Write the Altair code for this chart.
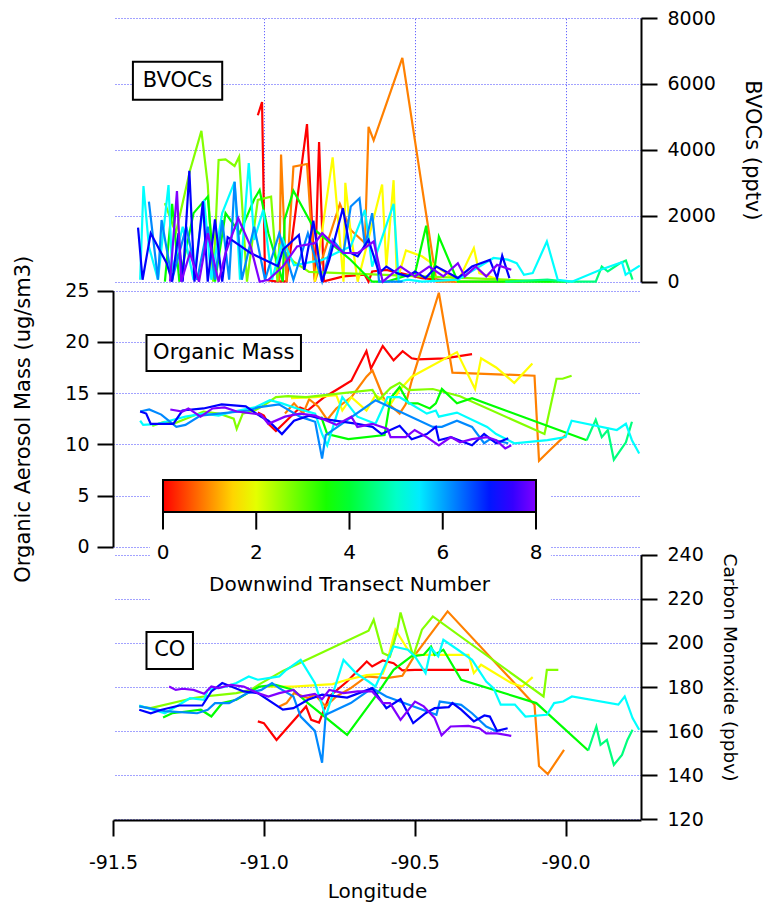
import altair as alt
import pandas as pd

FONT = "DejaVu Sans"

# Downwind transect number carried by each flight track (drives the colour)
TRANSECTS = [0.0, 0.9, 1.8, 2.7, 3.66, 4.5, 5.37, 6.2, 7.16, 8.0]

# ---------------- BVOCs (pptv): (longitude, value) per track ----------------
bvoc_0 = [(-91.020, 5050), (-91.006, 5450), (-90.996, 60), (-90.961, 10), (-90.925, 10),
          (-90.857, 4780), (-90.831, 60), (-90.817, 4240), (-90.801, 10), (-90.736, 160),
          (-90.666, 210), (-90.653, 0), (-90.641, 310), (-90.594, 360), (-90.547, 260),
          (-90.476, 110), (-90.357, 0)]
bvoc_1 = [(-90.949, 0), (-90.943, 3860), (-90.925, 0), (-90.902, 3490), (-90.857, 3570),
          (-90.831, 0), (-90.748, 2360), (-90.712, 1570), (-90.665, 1170), (-90.653, 4700),
          (-90.636, 4290), (-90.541, 6790), (-90.428, 0), (-90.300, 0), (-90.150, 0)]
bvoc_2 = [(-90.831, 0), (-90.772, 3770), (-90.736, 0), (-90.730, 3000), (-90.712, 1470),
          (-90.689, 0), (-90.608, 2950), (-90.594, 460), (-90.570, 3080), (-90.559, 0),
          (-90.529, 950), (-90.476, 770), (-90.357, 0), (-90.304, 1020), (-90.286, 260),
          (-90.200, 0)]
bvoc_3 = [(-91.328, 2380), (-91.292, 1470), (-91.245, 3365), (-91.207, 4575), (-91.186, 2950),
          (-91.168, 0), (-91.150, 3690), (-91.127, 3710), (-91.097, 3510), (-91.082, 3790),
          (-91.056, 0), (-91.020, 2480), (-90.976, 2580), (-90.955, 0), (-90.949, 1100),
          (-90.900, 600), (-90.850, 300), (-90.200, 60), (-90.050, 0)]
bvoc_4 = [(-91.328, 0), (-91.304, 2360), (-91.280, 0), (-91.233, 2080), (-91.186, 2580),
          (-91.162, 0), (-91.127, 2080), (-91.080, 1470), (-91.032, 2500), (-91.014, 2780),
          (-90.985, 1470), (-90.937, 0), (-90.931, 1900), (-90.902, 2760), (-90.831, 1570),
          (-90.712, 660), (-90.641, 0), (-90.594, 0), (-90.499, 260), (-90.462, 1700),
          (-90.440, 0), (-90.420, 1370), (-90.357, 0), (-90.000, 0)]
bvoc_5 = [(-90.200, 0), (-90.060, 60), (-90.000, 0), (-89.900, 0), (-89.880, 460),
          (-89.860, 310), (-89.820, 560), (-89.800, 640), (-89.778, 60)]
bvoc_6 = [(-91.410, 60), (-91.399, 2900), (-91.381, 1070), (-91.351, 60), (-91.316, 2930),
          (-91.304, 310), (-91.269, 1670), (-91.233, 60), (-91.198, 2480), (-91.174, 60),
          (-91.138, 2080), (-91.097, 3030), (-91.079, 60), (-91.050, 3600), (-91.032, 1270),
          (-91.002, 2180), (-90.973, 60), (-90.937, 1270), (-90.900, 500), (-90.807, 660),
          (-90.760, 870), (-90.712, 1070), (-90.665, 2180), (-90.641, 460), (-90.570, 2360),
          (-90.553, 0), (-90.523, 60), (-90.476, 0), (-90.357, 60), (-90.239, 720),
          (-90.192, 670), (-90.162, 560), (-90.138, 210), (-90.109, 260), (-90.062, 1220),
          (-90.026, 60), (-89.979, 0), (-89.884, 360), (-89.813, 590), (-89.801, 210),
          (-89.754, 490)]
bvoc_7 = [(-91.381, 2430), (-91.351, 60), (-91.339, 1870), (-91.304, 60), (-91.257, 1670),
          (-91.221, 60), (-91.186, 1670), (-91.162, 60), (-91.138, 1870), (-91.115, 60),
          (-91.097, 3030), (-91.073, 60), (-91.032, 1670), (-90.996, 60), (-90.949, 1470),
          (-90.902, 60), (-90.854, 1470), (-90.807, 10), (-90.772, 1270), (-90.736, 870),
          (-90.712, 2280), (-90.683, 2530), (-90.665, 1070), (-90.641, 2080), (-90.618, 0),
          (-90.540, 0)]
bvoc_8 = [(-91.417, 1640), (-91.402, 60), (-91.375, 1470), (-91.322, 560), (-91.304, 0),
          (-91.283, 1470), (-91.269, 0), (-91.247, 3365), (-91.230, 0), (-91.202, 2440),
          (-91.186, 0), (-91.162, 1890), (-91.138, 0), (-91.120, 1350), (-91.044, 870),
          (-90.953, 470), (-90.937, 970), (-90.884, 1420), (-90.866, 360), (-90.836, 1850),
          (-90.807, 0), (-90.783, 670), (-90.738, 2230), (-90.712, 870), (-90.689, 770),
          (-90.653, 1270), (-90.618, 260), (-90.594, 460), (-90.559, 260), (-90.523, 160),
          (-90.499, 310), (-90.464, 110), (-90.428, 460), (-90.357, 110), (-90.310, 460),
          (-90.251, 660), (-90.227, 110), (-90.210, 790), (-90.186, 110)]
bvoc_9 = [(-91.311, 0), (-91.288, 2750), (-91.274, 0), (-91.245, 870), (-91.215, 0),
          (-91.186, 1470), (-91.150, 0), (-91.127, 870), (-91.085, 1925), (-91.044, 1070),
          (-91.014, 0), (-90.985, 60), (-90.937, 460), (-90.890, 1070), (-90.831, 1170),
          (-90.807, 1470), (-90.772, 1170), (-90.736, 870), (-90.689, 870), (-90.636, 1220),
          (-90.606, 0), (-90.547, 460), (-90.499, 160), (-90.452, 460), (-90.405, 160),
          (-90.357, 560), (-90.334, 160), (-90.298, 460), (-90.263, 160), (-90.227, 510),
          (-90.180, 360)]

# ---------------- Organic aerosol mass (ug/sm3) ----------------
om_0 = [(-91.020, 13.1), (-91.000, 12.8), (-90.985, 12.0), (-90.960, 11.3), (-90.925, 12.3),
        (-90.880, 13.6), (-90.855, 13.3), (-90.830, 13.9), (-90.800, 14.6), (-90.760, 15.3),
        (-90.710, 16.2), (-90.660, 19.1), (-90.645, 17.4), (-90.606, 19.6), (-90.570, 18.2),
        (-90.540, 19.1), (-90.510, 18.4), (-90.490, 18.3), (-90.400, 18.4), (-90.310, 18.8)]
om_1 = [(-90.930, 13.0), (-90.900, 14.0), (-90.870, 13.0), (-90.850, 14.4), (-90.820, 13.7),
        (-90.790, 12.4), (-90.760, 13.5), (-90.710, 14.6), (-90.660, 16.6), (-90.640, 17.2),
        (-90.600, 14.3), (-90.550, 13.0), (-90.530, 13.9), (-90.510, 16.2), (-90.420, 24.8),
        (-90.375, 17.0), (-90.103, 16.7), (-90.088, 8.4), (-90.050, 9.5), (-90.000, 10.9)]
om_2 = [(-90.910, 14.5), (-90.830, 14.6), (-90.760, 14.8), (-90.740, 13.3), (-90.710, 14.6),
        (-90.660, 13.3), (-90.630, 14.8), (-90.580, 13.9), (-90.550, 15.3), (-90.510, 16.6),
        (-90.360, 19.0), (-90.300, 15.4), (-90.280, 18.4), (-90.230, 17.5), (-90.170, 16.0),
        (-90.110, 17.9)]
om_3 = [(-91.370, 11.8), (-91.330, 12.2), (-91.300, 12.0), (-91.250, 12.6), (-91.200, 13.2),
        (-91.150, 13.0), (-91.100, 12.5), (-91.090, 11.5), (-91.070, 13.0), (-91.030, 13.3),
        (-91.000, 13.8), (-90.960, 14.6), (-90.920, 14.7), (-90.860, 14.6), (-90.640, 15.3),
        (-90.620, 14.3), (-90.580, 15.5), (-90.550, 16.0), (-90.520, 15.3), (-90.440, 15.4),
        (-90.350, 14.7), (-90.070, 11.0), (-90.030, 16.4), (-90.010, 16.4), (-89.980, 16.7)]
om_4 = [(-90.810, 12.7), (-90.790, 11.0), (-90.720, 10.5), (-90.600, 10.9), (-90.580, 14.5),
        (-90.550, 15.6), (-90.520, 14.0), (-90.490, 14.0), (-90.450, 13.5), (-90.430, 14.0),
        (-90.410, 15.4), (-90.360, 14.0), (-90.310, 14.5), (-89.930, 10.4)]
om_5 = [(-89.930, 10.4), (-89.900, 12.4), (-89.880, 10.7), (-89.860, 11.4), (-89.840, 8.5),
        (-89.800, 10.2), (-89.780, 12.2)]
om_6 = [(-91.410, 12.3), (-91.400, 11.9), (-91.350, 12.0), (-91.300, 12.4), (-91.260, 12.7),
        (-91.200, 13.0), (-91.150, 12.8), (-91.100, 13.2), (-91.030, 13.6), (-90.980, 14.3),
        (-90.940, 14.0), (-90.890, 13.5), (-90.830, 13.0), (-90.807, 11.0), (-90.790, 9.9),
        (-90.740, 14.6), (-90.690, 12.7), (-90.630, 12.0), (-90.590, 14.6), (-90.550, 14.6),
        (-90.460, 13.0), (-90.430, 13.3), (-90.420, 12.7), (-90.360, 13.1), (-90.260, 11.7),
        (-90.230, 11.0), (-90.170, 10.1), (-90.060, 10.4), (-90.000, 10.7), (-89.980, 12.3),
        (-89.830, 11.4), (-89.800, 12.0), (-89.780, 10.4), (-89.756, 9.1)]
om_7 = [(-91.410, 13.2), (-91.380, 13.4), (-91.340, 12.9), (-91.290, 11.7), (-91.260, 11.9),
        (-91.210, 12.8), (-91.150, 13.0), (-91.050, 13.3), (-91.020, 13.6), (-90.950, 13.9),
        (-90.880, 12.7), (-90.830, 12.2), (-90.807, 8.6), (-90.795, 10.9), (-90.630, 14.3),
        (-90.440, 11.7), (-90.410, 11.7), (-90.360, 12.3), (-90.310, 11.7), (-90.270, 10.1),
        (-90.250, 10.5), (-90.190, 10.1)]
om_8 = [(-91.410, 13.2), (-91.390, 13.0), (-91.375, 12.0), (-91.300, 12.0), (-91.270, 13.3),
        (-91.200, 13.5), (-91.140, 13.9), (-91.060, 13.7), (-91.010, 12.7), (-90.985, 12.3),
        (-90.940, 11.0), (-90.900, 12.3), (-90.850, 12.8), (-90.810, 12.5), (-90.690, 12.0),
        (-90.640, 11.7), (-90.610, 11.0), (-90.550, 11.8), (-90.510, 10.5), (-90.460, 11.0),
        (-90.430, 11.7), (-90.420, 10.4), (-90.380, 10.7), (-90.310, 9.9), (-90.270, 11.0),
        (-90.230, 10.1), (-90.190, 10.6)]
om_9 = [(-91.310, 13.4), (-91.270, 13.2), (-91.250, 13.5), (-91.210, 12.7), (-91.170, 13.5),
        (-91.130, 13.6), (-91.090, 13.2), (-91.010, 12.9), (-90.985, 12.0), (-90.930, 12.7),
        (-90.880, 13.0), (-90.830, 12.8), (-90.760, 11.9), (-90.710, 12.7), (-90.690, 11.7),
        (-90.640, 12.0), (-90.590, 11.5), (-90.580, 10.7), (-90.530, 10.7), (-90.500, 11.4),
        (-90.460, 10.7), (-90.420, 9.9), (-90.380, 10.7), (-90.350, 10.2), (-90.310, 10.5),
        (-90.260, 10.7), (-90.230, 10.4), (-90.200, 9.6), (-90.180, 9.9)]

# ---------------- Carbon monoxide (ppbv) ----------------
co_0 = [(-91.020, 164.4), (-91.000, 163.6), (-90.958, 156.0), (-90.860, 171.2), (-90.843, 165.1),
        (-90.817, 163.9), (-90.783, 175.7), (-90.724, 182.5), (-90.659, 191.6), (-90.641, 189.3),
        (-90.606, 192.0), (-90.570, 190.8), (-90.541, 187.5), (-90.499, 187.8), (-90.400, 187.8),
        (-90.320, 187.8)]
co_1 = [(-90.949, 171.2), (-90.925, 172.7), (-90.900, 177.2), (-90.854, 175.0), (-90.831, 176.5),
        (-90.795, 171.2), (-90.760, 175.7), (-90.712, 179.5), (-90.659, 184.8), (-90.594, 184.0),
        (-90.541, 185.1), (-90.499, 194.6), (-90.391, 214.3), (-90.103, 172.0), (-90.088, 144.2),
        (-90.059, 140.5), (-90.005, 151.5)]
co_2 = [(-90.996, 180.2), (-90.902, 180.2), (-90.772, 181.3), (-90.724, 183.3), (-90.659, 185.4),
        (-90.606, 186.0), (-90.594, 190.1), (-90.564, 206.0), (-90.523, 197.0), (-90.499, 194.6),
        (-90.417, 194.6), (-90.322, 194.6), (-90.304, 186.3), (-90.280, 190.1), (-90.180, 181.8),
        (-90.144, 180.2), (-90.109, 184.5)]
co_3 = [(-91.413, 171.2), (-91.375, 170.4), (-91.233, 175.0), (-91.198, 175.7), (-91.138, 176.5),
        (-91.091, 177.2), (-91.044, 178.7), (-91.014, 181.3), (-90.937, 187.3), (-90.653, 205.5),
        (-90.636, 210.5), (-90.606, 195.4), (-90.582, 193.9), (-90.559, 205.0), (-90.547, 213.8),
        (-90.505, 193.9), (-90.476, 206.0), (-90.440, 212.0), (-90.073, 175.7), (-90.062, 187.8),
        (-90.024, 187.8)]
co_4 = [(-91.334, 166.2), (-91.304, 168.1), (-91.257, 168.9), (-91.209, 169.7), (-91.174, 166.6),
        (-91.138, 172.7), (-91.091, 174.2), (-91.044, 178.0), (-91.014, 180.2), (-90.961, 181.0),
        (-90.902, 178.7), (-90.854, 172.7), (-90.724, 158.3), (-90.630, 175.7), (-90.570, 187.8),
        (-90.511, 193.9), (-90.470, 194.6), (-90.446, 198.4), (-90.434, 194.6), (-90.405, 196.9),
        (-90.346, 183.3), (-90.097, 172.7), (-89.925, 151.2)]
co_5 = [(-89.925, 151.2), (-89.898, 162.1), (-89.884, 153.8), (-89.863, 156.0), (-89.840, 144.7),
        (-89.813, 149.2), (-89.795, 156.0), (-89.778, 160.6)]
co_6 = [(-91.413, 171.6), (-91.328, 168.1), (-91.245, 174.9), (-91.198, 174.2), (-91.186, 178.7),
        (-91.127, 180.2), (-91.091, 181.8), (-91.050, 184.8), (-91.020, 183.3), (-90.985, 184.0),
        (-90.949, 184.8), (-90.925, 187.8), (-90.878, 192.3), (-90.831, 181.8), (-90.795, 166.6),
        (-90.736, 192.3), (-90.695, 186.3), (-90.653, 182.5), (-90.630, 180.2), (-90.570, 198.4),
        (-90.523, 196.9), (-90.499, 193.9), (-90.464, 186.3), (-90.446, 197.6), (-90.422, 193.9),
        (-90.405, 201.4), (-90.357, 196.9), (-90.310, 192.3), (-90.263, 182.5), (-90.239, 179.5),
        (-90.215, 172.0), (-90.168, 172.0), (-90.133, 166.6), (-90.062, 167.4), (-90.038, 172.7),
        (-90.008, 173.4), (-89.979, 175.7), (-89.825, 172.0), (-89.804, 175.7), (-89.778, 165.9),
        (-89.756, 160.6)]
co_7 = [(-91.413, 171.2), (-91.328, 169.1), (-91.221, 168.1), (-91.186, 169.7), (-91.162, 172.7),
        (-91.115, 172.7), (-91.056, 177.2), (-91.008, 178.7), (-90.973, 181.8), (-90.949, 179.5),
        (-90.902, 175.7), (-90.878, 166.6), (-90.831, 160.1), (-90.807, 145.7), (-90.795, 167.4),
        (-90.712, 172.7), (-90.641, 179.5), (-90.594, 175.7), (-90.428, 167.4), (-90.417, 173.4),
        (-90.381, 172.7), (-90.346, 171.9), (-90.310, 168.1), (-90.263, 162.1), (-90.227, 159.8)]
co_8 = [(-91.413, 169.7), (-91.375, 168.1), (-91.339, 169.7), (-91.280, 171.6), (-91.204, 171.6),
        (-91.174, 178.0), (-91.138, 181.8), (-91.067, 178.0), (-91.020, 177.2), (-90.937, 169.7),
        (-90.902, 170.4), (-90.854, 174.2), (-90.807, 176.5), (-90.724, 175.2), (-90.641, 179.5),
        (-90.594, 170.4), (-90.547, 174.5), (-90.505, 163.6), (-90.464, 168.1), (-90.434, 170.4),
        (-90.387, 170.9), (-90.375, 172.7), (-90.346, 169.7), (-90.304, 164.4), (-90.269, 167.1),
        (-90.251, 166.6), (-90.227, 160.1), (-90.192, 161.3)]
co_9 = [(-91.314, 180.2), (-91.292, 178.7), (-91.269, 179.2), (-91.233, 178.7), (-91.198, 176.9),
        (-91.174, 180.2), (-91.150, 179.5), (-91.109, 181.0), (-91.067, 180.2), (-91.020, 177.2),
        (-90.985, 175.7), (-90.949, 177.2), (-90.902, 178.7), (-90.878, 175.7), (-90.831, 176.9),
        (-90.807, 174.5), (-90.783, 178.7), (-90.736, 177.2), (-90.689, 178.0), (-90.641, 178.0),
        (-90.606, 172.7), (-90.582, 172.7), (-90.547, 165.1), (-90.499, 173.4), (-90.470, 171.2),
        (-90.434, 165.9), (-90.411, 158.1), (-90.381, 162.1), (-90.322, 162.4), (-90.286, 161.3),
        (-90.263, 159.0), (-90.227, 159.0), (-90.180, 157.8)]

# axis ticks
LON_TICKS = [-91.5, -91.0, -90.5, -90.0]
BVOC_TICKS = [0, 2000, 4000, 6000, 8000]
OM_TICKS = [0, 5, 10, 15, 20, 25]
CO_TICKS = [120, 140, 160, 180, 200, 220, 240]
CBAR_TICKS = [0, 2, 4, 6, 8]
CBAR_TITLE = "Downwind Transect Number"


def long_table(series):
    rows = []
    for k, pts in enumerate(series):
        for i, (lon, val) in enumerate(pts):
            rows.append({"lon": lon, "value": val, "transect": TRANSECTS[k], "track": k, "seq": i})
    return pd.DataFrame(rows)


bvoc_df = long_table([bvoc_0, bvoc_1, bvoc_2, bvoc_3, bvoc_4, bvoc_5, bvoc_6, bvoc_7, bvoc_8, bvoc_9])
om_df = long_table([om_0, om_1, om_2, om_3, om_4, om_5, om_6, om_7, om_8, om_9])
co_df = long_table([co_0, co_1, co_2, co_3, co_4, co_5, co_6, co_7, co_8, co_9])
one_row = pd.DataFrame({"k": [0]})
tick_df = pd.DataFrame({"tick": CBAR_TICKS})

W, H = 528, 802
GRID = "#4444ff"


def lon_scale():
    return alt.Scale(domain=[-91.5, -89.75], nice=False, zero=False)


# three stacked value scales sharing one plotting rectangle
bvoc_scale = alt.Scale(domain=[0, 8000], range=[263.7, 0], nice=False, zero=False)
om_scale = alt.Scale(domain=[0, 25], range=[528.7, 272.7], nice=False, zero=False)
co_scale = alt.Scale(domain=[120, 240], range=[801.3, 536.7], nice=False, zero=False)
# colour-bar placement scales (0 = bottom edge of the bar, 1 = top edge)
cb_x = alt.Scale(domain=[0, 8], range=[50, 423], nice=False, zero=False)
cb_y = alt.Scale(domain=[0, 1], range=[494, 462], nice=False, zero=False)

color_scale = alt.Scale(
    domain=[0, 0.9, 1.8, 3.66, 5.37, 7.16, 8],
    range=["#ff0000", "#ff8000", "#ffff00", "#00ff00", "#00ffff", "#0000ff", "#8000ff"],
    interpolate="rgb",
)

# the legend supplies only the gradient bar; ticks, centred labels and title are marks
legend = alt.Legend(
    orient="none", legendX=50, legendY=462, direction="horizontal",
    gradientLength=373, gradientThickness=32,
    gradientStrokeColor="black", gradientStrokeWidth=2,
    values=CBAR_TICKS, labelExpr="''", title=None, padding=0,
)

axis_common = dict(
    domainColor="black", domainWidth=2, tickColor="black", tickWidth=2, tickSize=16,
    labelFont=FONT, labelFontSize=19, labelColor="black", labelOverlap=False, labelFlush=False,
    titleFont=FONT, titleFontSize=20, titleFontWeight="normal", titleColor="black",
    grid=True, gridColor=GRID, gridDash=[1, 2], gridWidth=1,
)

x_axis = alt.Axis(
    orient="bottom", values=LON_TICKS, title="Longitude",
    labelExpr="replace(format(datum.value, '.1f'), '\u2212', '-')",
    labelPadding=17, titlePadding=9,
    gridOpacity=alt.condition("datum.value == -91.5", alt.value(0), alt.value(1)),
    **axis_common,
)
bvoc_axis = alt.Axis(orient="right", values=BVOC_TICKS, format="d", title="BVOCs (pptv)",
                     labelPadding=10, titlePadding=26, **{**axis_common, "titleFontSize": 21})
om_axis = alt.Axis(orient="left", values=OM_TICKS, format="d", title="Organic Aerosol Mass (ug/sm3)",
                   labelPadding=8, titlePadding=31, **{**axis_common, "titleFontSize": 21})
co_axis = alt.Axis(orient="right", values=CO_TICKS, format="d", title="Carbon Monoxide (ppbv)",
                   labelPadding=10, titlePadding=16, titleY=535, titleAlign="left",
                   **{**axis_common, "titleFontSize": 18.5})


def tracks(df, y_scale, y_axis, x_axis_def=None):
    return alt.Chart(df).mark_line(strokeWidth=2.2).encode(
        x=alt.X("lon:Q", scale=lon_scale(), axis=x_axis_def),
        y=alt.Y("value:Q", scale=y_scale, axis=y_axis),
        color=alt.Color("transect:Q", scale=color_scale, legend=legend),
        detail="track:N",
        order="seq:Q",
    )


def label_box(lon0, lon1, v0, v1, y_scale):
    return alt.Chart(one_row).mark_rect(fill="white", stroke="black", strokeWidth=2).encode(
        x=alt.XDatum(lon0, scale=lon_scale(), axis=None), x2=alt.X2Datum(lon1),
        y=alt.YDatum(v0, scale=y_scale, axis=None), y2=alt.Y2Datum(v1),
    )


def label_text(text, lon, v, y_scale):
    return alt.Chart(one_row).mark_text(
        text=text, font=FONT, fontSize=21, color="black", align="center", baseline="middle"
    ).encode(
        x=alt.XDatum(lon, scale=lon_scale(), axis=None),
        y=alt.YDatum(v, scale=y_scale, axis=None),
    )


bvoc_lines = tracks(bvoc_df, bvoc_scale, bvoc_axis)
om_lines = tracks(om_df, om_scale, om_axis)
co_lines = tracks(co_df, co_scale, co_axis, x_axis)

bvoc_box = label_box(-91.434, -91.138, 6673, 5519, bvoc_scale)
bvoc_lbl = label_text("BVOCs", -91.286, 6096, bvoc_scale)
om_box = label_box(-91.389, -90.877, 20.67, 17.16, om_scale)
om_lbl = label_text("Organic Mass", -91.133, 18.92, om_scale)
co_box = label_box(-91.389, -91.235, 204.9, 188.2, co_scale)
co_lbl = label_text("CO", -91.312, 196.6, co_scale)

# white panel behind the colour bar, its tick marks, tick labels and title
cbar_bg = alt.Chart(one_row).mark_rect(fill="white").encode(
    x=alt.XDatum(-0.28, scale=cb_x, axis=None), x2=alt.X2Datum(8.32),
    y=alt.YDatum(1.25, scale=cb_y, axis=None), y2=alt.Y2Datum(-2.78),
)
cbar_ticks = alt.Chart(tick_df).mark_rule(color="black", strokeWidth=2).encode(
    x=alt.X("tick:Q", scale=cb_x, axis=None),
    y=alt.YDatum(0, scale=cb_y, axis=None), y2=alt.Y2Datum(-0.55),
)
cbar_labels = alt.Chart(tick_df).mark_text(
    font=FONT, fontSize=20, color="black", align="center", baseline="top"
).encode(
    x=alt.X("tick:Q", scale=cb_x, axis=None),
    y=alt.YDatum(-0.96, scale=cb_y, axis=None),
    text=alt.Text("tick:Q", format="d"),
)
cbar_title = alt.Chart(one_row).mark_text(
    text=CBAR_TITLE, font=FONT, fontSize=20, color="black", align="center", baseline="top"
).encode(
    x=alt.XDatum(4, scale=cb_x, axis=None),
    y=alt.YDatum(-1.96, scale=cb_y, axis=None),
)

chart = alt.layer(
    bvoc_lines, om_lines, co_lines,
    bvoc_box, bvoc_lbl, om_box, om_lbl, co_box, co_lbl,
    cbar_bg, cbar_ticks, cbar_labels, cbar_title,
).resolve_scale(
    x="independent", y="independent", color="shared"
).properties(
    width=W, height=H,
    padding={"left": 113, "top": 18, "right": 126, "bottom": 85},
    autosize=alt.AutoSizeParams(type="none"),
    background="white",
).configure_view(stroke=None)

chart.save("out.html", embed_options={"renderer": "svg", "actions": False})
